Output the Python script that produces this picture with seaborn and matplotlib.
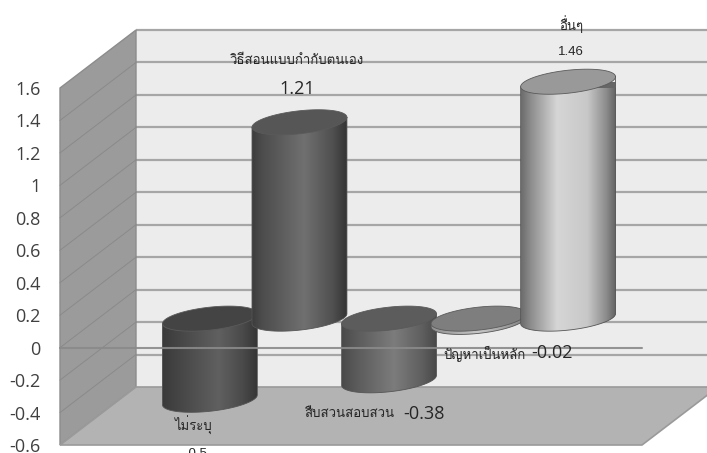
import numpy as np
import matplotlib
matplotlib.use("Agg")
import matplotlib.pyplot as plt
from matplotlib.patches import Polygon
from matplotlib.transforms import Affine2D
import seaborn as sns

categories = ["ไม่ระบุ", "วิธีสอนแบบกำกับตนเอง", "สืบสวนสอบสวน", "ปัญหาเป็นหลัก", "อื่นๆ"]
values = [-0.5, 1.21, -0.38, -0.02, 1.46]
value_labels = ["-0.5", "1.21", "-0.38", "-0.02", "1.46"]
y_ticks = [1.6, 1.4, 1.2, 1.0, 0.8, 0.6, 0.4, 0.2, 0.0, -0.2, -0.4, -0.6]
y_tick_labels = ["1.6", "1.4", "1.2", "1", "0.8", "0.6", "0.4", "0.2", "0", "-0.2", "-0.4", "-0.6"]

# Horizontal shading across each cylinder and the colour of its cap
shade_stops = [
    [(0, 0x3a), (0.12, 0x42), (0.6, 0x60), (0.85, 0x4a), (1, 0x36)],
    [(0, 0x3c), (0.1, 0x4c), (0.55, 0x70), (0.85, 0x50), (1, 0x34)],
    [(0, 0x4a), (0.12, 0x58), (0.55, 0x7c), (0.85, 0x5e), (1, 0x48)],
    [(0, 0x90), (0.5, 0xc8), (1, 0x80)],
    [(0, 0x6c), (0.1, 0x8c), (0.38, 0xd6), (0.7, 0xc8), (0.9, 0x8c), (1, 0x62)],
]
cap_greys = ["#444444", "#565656", "#5c5c5c", "#7e7e7e", "#999999"]

sns.set_theme(style="white")
thai_fonts = ["Loma", "Noto Sans Thai Looped", "Noto Sans Thai", "DejaVu Sans"]
plt.rcParams["font.family"] = ["Open Sans", "DejaVu Sans"]

W, H = 707, 453
fig = plt.figure(figsize=(W / 100, H / 100), dpi=100, facecolor="white")
ax = fig.add_axes([60 / W, 8 / H, 582 / W, 357 / H])
ax.patch.set_visible(False)

sns.barplot(x=categories, y=values, order=categories, width=1.06, color="#666666",
            saturation=1, ax=ax, zorder=5)

XMIN, XMAX, YMIN, YMAX = -1.25, 5.25, -0.6, 1.6
px_x = 582 / (XMAX - XMIN)
px_y = 357 / (YMAX - YMIN)

# Depth of the chart box: back wall 76 px right and 58 px up, bars halfway in
back_tr = ax.transData + Affine2D().translate(76, 58)
mid_tr = ax.transData + Affine2D().translate(38, 29)
dx, dy = 76 / px_x, 58 / px_y

# Back wall, left wall and floor
ax.add_patch(Polygon([(XMIN, YMIN), (XMIN, YMAX), (XMAX, YMAX), (XMAX, YMIN)], closed=True,
                     transform=back_tr, fc="#ececec", ec="none", clip_on=False, zorder=0))
ax.add_patch(Polygon([(XMIN, YMIN), (XMIN, YMAX), (XMIN + dx, YMAX + dy), (XMIN + dx, YMIN + dy)],
                     closed=True, fc="#9b9b9b", ec="#8c8c8c", lw=1, clip_on=False, zorder=2))
ax.add_patch(Polygon([(XMIN, YMIN), (XMIN + dx, YMIN + dy), (XMAX + dx, YMIN + dy), (XMAX, YMIN)],
                     closed=True, fc="#b3b3b3", ec="#9a9a9a", lw=1.2, clip_on=False, zorder=2))

# Gridlines on the back wall and running across the left wall
ax.hlines(y_ticks[:-1], XMIN, XMAX, transform=back_tr, colors="#a6a6a6", lw=1.6,
          clip_on=False, zorder=1)
for t in y_ticks[1:-1]:
    ax.plot([XMIN, XMIN + dx], [t, t + dy], color="#8a8a8a", lw=0.7, clip_on=False, zorder=3)


def end_ellipse(cx, half, level, n=90):
    """Tilted elliptical end of a cylinder, returned in data units."""
    a = np.linspace(0, 2 * np.pi, n)
    return (cx + half * np.cos(a),
            level + (5 * np.cos(a) + 11.5 * np.sin(a)) / px_y)


# Cylinders are painted left to right so each one overlaps its neighbour
bars = ax.containers[0]
for i, (bar, stops) in enumerate(zip(bars, shade_stops)):
    z = 10 + i * 3
    x0, w = bar.get_x(), bar.get_width()
    cx, half = x0 + w / 2, w / 2
    v = bar.get_y() + bar.get_height()
    upper, lower = max(v, bar.get_y()), min(v, bar.get_y())

    arc = np.linspace(np.pi, 2 * np.pi, 60)
    low_x = cx + half * np.cos(arc)
    low_y = lower + (5 * np.cos(arc) + 11.5 * np.sin(arc)) / px_y
    body_xy = np.column_stack([
        np.r_[x0, low_x, x0 + w],
        np.r_[upper - 5 / px_y, low_y, upper + 5 / px_y],
    ])
    body = Polygon(body_xy, closed=True, transform=mid_tr, fc="none", ec="#555555",
                   lw=0.6, joinstyle="round", clip_on=False, zorder=z + 1)
    ax.add_patch(body)

    bar.set_transform(mid_tr)
    bar.set_zorder(z)
    bar.set_edgecolor("none")
    bar.set_clip_path(body)
    bar.set_clip_box(None)

    s = np.linspace(0, 1, 200)
    grey = np.interp(s, [p for p, _ in stops], [g for _, g in stops]) / 255
    img = np.dstack([grey, grey, grey])
    im = ax.imshow(img, extent=(x0, x0 + w, lower - 30 / px_y, upper + 30 / px_y),
                   aspect="auto", interpolation="bilinear", zorder=z + 0.5)
    im.set_transform(mid_tr)
    im.set_clip_path(body)
    im.set_clip_box(None)

    tx, ty = end_ellipse(cx, half, upper)
    ax.add_patch(Polygon(np.column_stack([tx, ty]), closed=True, transform=mid_tr,
                         fc=cap_greys[i], ec="#5a5a5a", lw=0.6, joinstyle="round",
                         clip_on=False, zorder=z + 2))

# Zero line crosses in front of everything
ax.plot([XMIN, XMAX], [0, 0], color="#8a8a8a", lw=1.5, alpha=0.9, clip_on=False, zorder=40)

ax.set_xlim(XMIN, XMAX)
ax.set_ylim(YMIN, YMAX)
ax.set_xticks([])
ax.set_xlabel("")
ax.set_ylabel("")
ax.set_yticks(y_ticks, y_tick_labels, fontsize=13, color="#404040")
ax.tick_params(axis="y", length=0, pad=14)
sns.despine(ax=ax, left=True, bottom=True)


def put(x, y, s, size, family, ha="center"):
    fig.text(x / W, 1 - y / H, s, fontsize=size, family=family, ha=ha, va="center",
             color="#262626", zorder=50)


sans = ["Open Sans", "DejaVu Sans"]
arial = ["Liberation Sans", "DejaVu Sans"]
put(194, 425, categories[0], 9.5, thai_fonts)
put(196, 454, value_labels[0], 9.5, arial)
put(297, 61, categories[1], 9.5, thai_fonts)
put(297, 89, value_labels[1], 13, sans)
put(349, 414, categories[2], 9.5, thai_fonts)
put(403, 414, value_labels[2], 13, sans, ha="left")
put(484, 354, categories[3], 9.5, thai_fonts)
put(531, 353, value_labels[3], 13, sans, ha="left")
put(571, 24, categories[4], 9.5, thai_fonts)
put(571, 52, value_labels[4], 9.5, arial)

fig.savefig("out.png", dpi=100)
